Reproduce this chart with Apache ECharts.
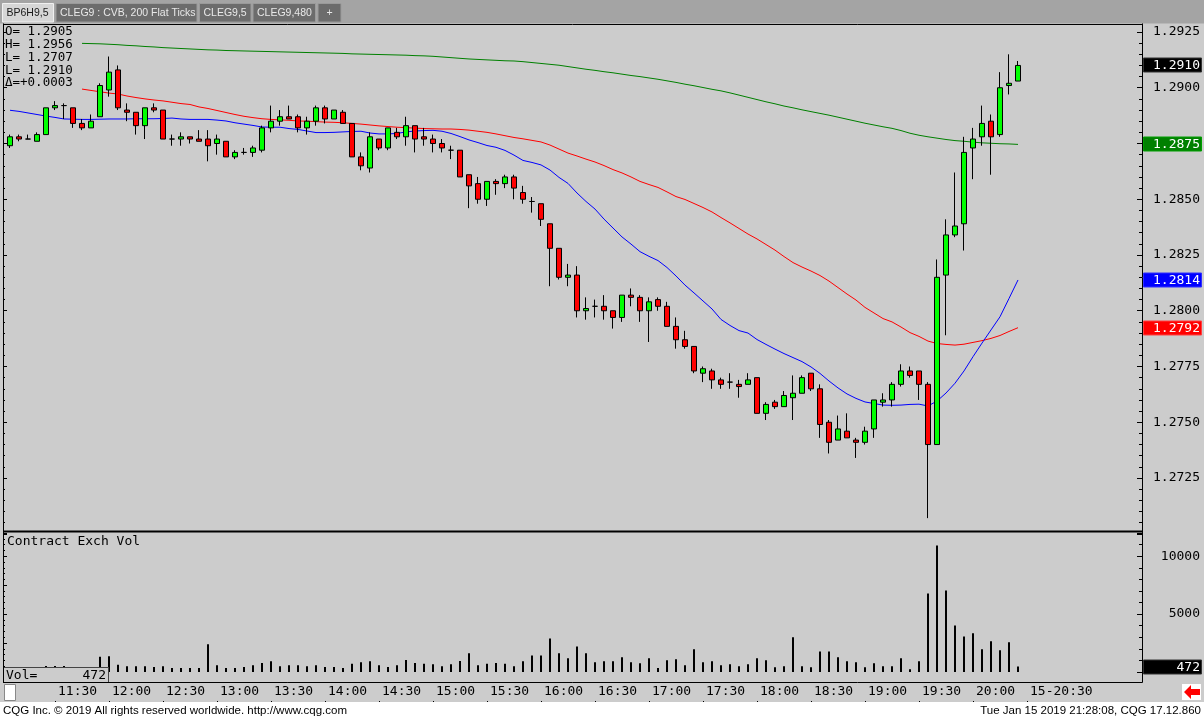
<!DOCTYPE html>
<html>
<head>
<meta charset="utf-8">
<title>BP6H9,5</title>
<script src="https://cdn.jsdelivr.net/npm/echarts@6.0.0/dist/echarts.min.js"></script>
<style>
  html, body { margin: 0; padding: 0; background: #ffffff; }
  #chart { width: 1204px; height: 719px; }
</style>
</head>
<body>
<div id="chart"></div>
<script type="text/javascript">
// 5 minute bars, 11:05 .. 20:25 (room on the axis up to 21:30)
var times = [];
for (var m = 11 * 60 + 5; m <= 21 * 60 + 30; m += 5) {
  times.push(('0' + Math.floor(m / 60)).slice(-2) + ':' + ('0' + (m % 60)).slice(-2));
}

var opens = [1.2874,1.2878,1.2877,1.2876,1.2879,1.2891,1.2892,1.2891,1.2884,1.2882,
  1.2887,1.2899,1.2908,1.2890,1.2889,1.2883,1.2891,1.2890,1.2877,1.2877,
  1.2878,1.2877,1.2877,1.2875,1.2876,1.2869,1.2871,1.2871,1.2872,1.2882,
  1.2885,1.2887,1.2887,1.2882,1.2885,1.2891,1.2886,1.2889,1.2884,1.2869,
  1.2864,1.2877,1.2873,1.2880,1.2878,1.2883,1.2878,1.2877,1.2875,1.2872,
  1.2872,1.2861,1.2857,1.2850,1.2858,1.2857,1.2860,1.2853,1.2849,1.2848,
  1.2839,1.2828,1.2815,1.2816,1.2800,1.2802,1.2802,1.2800,1.2797,1.2807,
  1.2806,1.2800,1.2805,1.2802,1.2793,1.2787,1.2784,1.2772,1.2773,1.2769,
  1.2768,1.2767,1.2767,1.2770,1.2754,1.2759,1.2757,1.2761,1.2763,1.2772,
  1.2765,1.2750,1.2742,1.2746,1.2742,1.2741,1.2747,1.2759,1.2760,1.2767,
  1.2773,1.2773,1.2767,1.2740,1.2816,1.2834,1.2839,1.2873,1.2878,1.2885,
  1.2879,1.2901,1.2903];

var highs = [1.2879,1.2879,1.2879,1.2880,1.2891,1.2894,1.2893,1.2891,1.2886,1.2888,
  1.2902,1.2914,1.2910,1.2893,1.2889,1.2891,1.2893,1.2890,1.2879,1.2880,
  1.2878,1.2881,1.2881,1.2879,1.2876,1.2872,1.2873,1.2874,1.2883,1.2892,
  1.2890,1.2892,1.2888,1.2887,1.2892,1.2892,1.2890,1.2890,1.2884,1.2871,
  1.2880,1.2877,1.2882,1.2882,1.2887,1.2883,1.2882,1.2879,1.2877,1.2874,
  1.2872,1.2861,1.2860,1.2858,1.2859,1.2861,1.2861,1.2856,1.2851,1.2848,
  1.2839,1.2828,1.2821,1.2820,1.2806,1.2805,1.2807,1.2800,1.2807,1.2810,
  1.2807,1.2806,1.2806,1.2804,1.2797,1.2791,1.2784,1.2775,1.2774,1.2770,
  1.2772,1.2769,1.2772,1.2770,1.2759,1.2760,1.2764,1.2771,1.2771,1.2772,
  1.2767,1.2751,1.2753,1.2754,1.2743,1.2748,1.2760,1.2763,1.2768,1.2776,
  1.2775,1.2773,1.2768,1.2823,1.2841,1.2862,1.2878,1.2882,1.2892,1.2888,
  1.2907,1.2915,1.2912];

var lows = [1.2873,1.2876,1.2877,1.2876,1.2879,1.2890,1.2886,1.2882,1.2881,1.2882,
  1.2887,1.2896,1.2890,1.2885,1.2879,1.2877,1.2889,1.2877,1.2874,1.2874,
  1.2875,1.2876,1.2867,1.2870,1.2869,1.2868,1.2870,1.2869,1.2871,1.2880,
  1.2883,1.2886,1.2880,1.2879,1.2883,1.2884,1.2886,1.2884,1.2869,1.2863,
  1.2862,1.2872,1.2872,1.2877,1.2874,1.2871,1.2874,1.2871,1.2871,1.2868,
  1.2860,1.2846,1.2848,1.2847,1.2852,1.2855,1.2850,1.2848,1.2844,1.2838,
  1.2811,1.2814,1.2811,1.2797,1.2796,1.2797,1.2796,1.2792,1.2795,1.2802,
  1.2795,1.2786,1.2800,1.2793,1.2783,1.2783,1.2772,1.2768,1.2765,1.2765,
  1.2765,1.2761,1.2767,1.2754,1.2751,1.2756,1.2757,1.2751,1.2763,1.2764,
  1.2743,1.2736,1.2742,1.2743,1.2734,1.2740,1.2743,1.2757,1.2757,1.2766,
  1.2770,1.2760,1.2707,1.2740,1.2789,1.2833,1.2827,1.2859,1.2874,1.2861,
  1.2878,1.2897,1.2903];

var closes = [1.2878,1.2877,1.2877,1.2879,1.2891,1.2892,1.2892,1.2884,1.2882,1.2885,
  1.2901,1.2907,1.2891,1.2889,1.2883,1.2891,1.2890,1.2877,1.2877,1.2878,
  1.2877,1.2876,1.2874,1.2877,1.2869,1.2871,1.2871,1.2873,1.2882,1.2885,
  1.2887,1.2886,1.2882,1.2885,1.2891,1.2886,1.2890,1.2884,1.2869,1.2865,
  1.2878,1.2873,1.2882,1.2878,1.2883,1.2877,1.2877,1.2875,1.2873,1.2872,
  1.2860,1.2856,1.2850,1.2858,1.2857,1.2860,1.2855,1.2850,1.2849,1.2841,
  1.2828,1.2815,1.2816,1.2800,1.2801,1.2802,1.2800,1.2797,1.2807,1.2806,
  1.2800,1.2804,1.2802,1.2793,1.2787,1.2784,1.2773,1.2774,1.2769,1.2767,
  1.2768,1.2766,1.2769,1.2754,1.2758,1.2757,1.2762,1.2763,1.2770,1.2765,
  1.2749,1.2741,1.2747,1.2743,1.2741,1.2746,1.2760,1.2760,1.2767,1.2773,
  1.2771,1.2767,1.2740,1.2815,1.2834,1.2838,1.2871,1.2877,1.2884,1.2878,
  1.2900,1.2902,1.2910];

var volumes = [300,300,300,300,520,520,520,300,300,300,
  1320,1350,630,490,490,490,430,490,345,345,
  345,345,2385,575,345,345,430,575,775,920,
  490,575,575,490,575,430,430,345,715,835,
  920,575,430,575,1035,775,715,660,490,660,
  950,1610,575,715,775,715,490,920,1435,1435,
  2900,1610,1180,2210,1610,835,920,920,1265,835,
  750,1180,345,1005,1090,575,1955,835,920,575,
  660,490,660,1180,1005,400,490,2990,490,400,
  1780,1780,1265,920,835,400,750,490,490,1180,
  230,920,6780,10920,7040,4020,3075,3335,1955,2645,
  1870,2560,472];

// moving averages as drawn (blue fast, red medium, green slow)
var maBlue = [1.28899,1.28894,1.28887,1.28880,1.28873,1.28867,1.28860,1.28859,1.28858,1.28858,
  1.28859,1.28860,1.28860,1.28860,1.28861,1.28861,1.28861,1.28862,1.28864,1.28860,
  1.28858,1.28858,1.28858,1.28855,1.28851,1.28843,1.28837,1.28831,1.28824,1.28823,
  1.28823,1.28817,1.28813,1.28806,1.28799,1.28799,1.28800,1.28802,1.28804,1.28805,
  1.28797,1.28793,1.28793,1.28795,1.28802,1.28806,1.28808,1.28809,1.28805,1.28795,
  1.28781,1.28766,1.28754,1.28741,1.28733,1.28719,1.28698,1.28674,1.28665,1.28654,
  1.28631,1.28598,1.28571,1.28528,1.28490,1.28456,1.28411,1.28371,1.28331,1.28299,
  1.28265,1.28244,1.28225,1.28194,1.28156,1.28115,1.28080,1.28044,1.28008,1.27961,
  1.27934,1.27911,1.27900,1.27871,1.27849,1.27828,1.27808,1.27790,1.27772,1.27748,
  1.27719,1.27685,1.27654,1.27627,1.27607,1.27591,1.27584,1.27577,1.27576,1.27577,
  1.27580,1.27581,1.27573,1.27595,1.27631,1.27675,1.27730,1.27794,1.27855,1.27914,
  1.27973,1.28055,1.28138];

var maRed = [null,null,null,null,null,null,null,null,
  1.28994,1.28988,1.28982,1.28976,1.28972,1.28963,1.28956,1.28950,1.28945,1.28941,
  1.28935,1.28929,1.28925,1.28914,1.28907,1.28898,1.28889,1.28880,1.28872,1.28866,
  1.28861,1.28858,1.28856,1.28854,1.28851,1.28850,1.28848,1.28846,1.28845,1.28843,
  1.28840,1.28837,1.28833,1.28829,1.28826,1.28823,1.28821,1.28819,1.28817,1.28816,
  1.28815,1.28815,1.28813,1.28810,1.28805,1.28800,1.28793,1.28785,1.28777,1.28771,
  1.28764,1.28757,1.28743,1.28725,1.28707,1.28694,1.28680,1.28667,1.28651,1.28633,
  1.28618,1.28600,1.28580,1.28566,1.28553,1.28533,1.28512,1.28499,1.28481,1.28463,
  1.28443,1.28418,1.28394,1.28369,1.28344,1.28322,1.28297,1.28272,1.28243,1.28216,
  1.28196,1.28178,1.28158,1.28133,1.28104,1.28075,1.28048,1.28015,1.27990,1.27965,
  1.27950,1.27927,1.27902,1.27885,1.27864,1.27853,1.27849,1.27846,1.27850,1.27858,
  1.27866,1.27876,1.27889,1.27907,1.27924];

var maGreen = [null,null,null,null,null,null,null,null,
  1.29199,1.29198,1.29197,1.29195,1.29193,1.29190,1.29188,1.29185,1.29183,1.29180,
  1.29178,1.29176,1.29174,1.29172,1.29170,1.29169,1.29167,1.29166,1.29165,1.29164,
  1.29163,1.29162,1.29161,1.29160,1.29159,1.29158,1.29157,1.29156,1.29155,1.29154,
  1.29152,1.29151,1.29150,1.29149,1.29148,1.29147,1.29146,1.29144,1.29143,1.29141,
  1.29138,1.29135,1.29132,1.29129,1.29127,1.29125,1.29123,1.29121,1.29120,1.29117,
  1.29113,1.29109,1.29105,1.29101,1.29095,1.29089,1.29083,1.29078,1.29072,1.29067,
  1.29061,1.29055,1.29050,1.29044,1.29038,1.29031,1.29024,1.29016,1.29009,1.29001,
  1.28993,1.28986,1.28977,1.28967,1.28957,1.28947,1.28937,1.28928,1.28918,1.28910,
  1.28901,1.28893,1.28885,1.28877,1.28868,1.28859,1.28850,1.28841,1.28833,1.28825,
  1.28818,1.28808,1.28796,1.28787,1.28780,1.28774,1.28768,1.28763,1.28760,1.28756,
  1.28753,1.28751,1.28749,1.28748,1.28746];

var headerLines = ['O= 1.2905', 'H= 1.2956', 'L= 1.2707', 'L= 1.2910', '\u0394=+0.0003'];
var tabs = ['BP6H9,5', 'CLEG9 : CVB, 200 Flat Ticks', 'CLEG9,5', 'CLEG9,480', '+'];
var firstLabel = 5, lastLabel = 113; // 11:30 .. 20:30

var mono = "'DejaVu Sans Mono', monospace";
var sans = "'Liberation Sans', Arial, sans-serif";

var candles = opens.map(function (o, i) { return [o, closes[i], lows[i], highs[i]]; });

function showTime(index, value) {
  return index >= firstLabel && index <= lastLabel && /:(00|30)$/.test(value);
}

var myChart = echarts.init(document.getElementById('chart'));

var option = {
  animation: false,
  backgroundColor: '#cccccc',
  grid: [
    { left: 5.5, width: 1134, top: 20.85, height: 512.9 },
    { left: 5.5, width: 1134, top: 533, height: 139 },
    { left: 5.5, width: 1134, top: 682, height: 19 }
  ],
  xAxis: [
    { type: 'category', gridIndex: 0, data: times, show: false },
    { type: 'category', gridIndex: 1, data: times, show: false },
    {
      type: 'category', gridIndex: 2, data: times, position: 'top',
      axisLine: { show: false },
      axisTick: { show: true, inside: true, length: 18, alignWithLabel: true,
        interval: showTime, lineStyle: { color: '#000', width: 1 } },
      axisLabel: { inside: true, interval: showTime, align: 'left', margin: 3,
        padding: [0, 0, 0, 3], color: '#000', fontFamily: mono, fontSize: 13,
        formatter: function (v, i) { return i === lastLabel ? '15-' + v : v; } },
      splitLine: { show: false }
    }
  ],
  yAxis: [
    {
      type: 'value', gridIndex: 0, position: 'right', offset: 2.5,
      min: 1.27, max: 1.293, interval: 0.0025,
      axisLine: { show: true, lineStyle: { color: '#000' } },
      axisTick: { show: true, inside: true, length: 5, lineStyle: { color: '#000' } },
      minorTick: { show: true, splitNumber: 5, length: 3, lineStyle: { color: '#000' } },
      splitLine: { show: false },
      axisLabel: { align: 'right', margin: 58, color: '#000', fontFamily: mono, fontSize: 13,
        formatter: function (v) { return (v < 1.2712 || v > 1.2926) ? '' : v.toFixed(4); } }
    },
    {
      type: 'value', gridIndex: 0, position: 'left', offset: 2.5,
      min: 1.27, max: 1.293, interval: 0.0025,
      axisLine: { show: true, lineStyle: { color: '#000' } },
      axisTick: { show: true, inside: true, length: 4, lineStyle: { color: '#000' } },
      minorTick: { show: true, splitNumber: 5, length: 2, lineStyle: { color: '#000' } },
      splitLine: { show: false },
      axisLabel: { show: false }
    },
    {
      type: 'value', gridIndex: 1, position: 'right', offset: 2.5,
      min: 0, max: 12000, interval: 5000,
      axisLine: { show: true, lineStyle: { color: '#000' } },
      axisTick: { show: true, inside: true, length: 5, lineStyle: { color: '#000' } },
      minorTick: { show: true, splitNumber: 5, length: 3, lineStyle: { color: '#000' } },
      splitLine: { show: false },
      axisLabel: { align: 'right', margin: 58, color: '#000', fontFamily: mono, fontSize: 13,
        formatter: function (v) { return (v === 5000 || v === 10000) ? String(v) : ''; } }
    },
    {
      type: 'value', gridIndex: 1, position: 'left', offset: 2.5,
      min: 0, max: 12000, interval: 2500,
      axisLine: { show: true, lineStyle: { color: '#000' } },
      axisTick: { show: true, inside: true, length: 4, lineStyle: { color: '#000' } },
      minorTick: { show: true, splitNumber: 5, length: 2, lineStyle: { color: '#000' } },
      splitLine: { show: false },
      axisLabel: { show: false }
    },
    { type: 'value', gridIndex: 2, show: false }
  ],
  series: [
    { name: 'MA slow', type: 'line', xAxisIndex: 0, yAxisIndex: 0, data: maGreen,
      showSymbol: false, z: 1, lineStyle: { color: '#008000', width: 1 } },
    { name: 'MA mid', type: 'line', xAxisIndex: 0, yAxisIndex: 0, data: maRed,
      showSymbol: false, z: 1, lineStyle: { color: '#ff0000', width: 1 } },
    { name: 'MA fast', type: 'line', xAxisIndex: 0, yAxisIndex: 0, data: maBlue,
      showSymbol: false, z: 1, lineStyle: { color: '#0000ff', width: 1 } },
    { name: 'BP6H9', type: 'candlestick', xAxisIndex: 0, yAxisIndex: 0, data: candles,
      barWidth: 5, z: 3,
      itemStyle: { color: '#00ff00', color0: '#ff0000', borderColor: '#000000',
        borderColor0: '#000000', borderColorDoji: '#000000', borderWidth: 1 } },
    { name: 'Vol', type: 'bar', xAxisIndex: 1, yAxisIndex: 2, data: volumes,
      barWidth: 2, itemStyle: { color: '#000000' } }
  ]
};

myChart.setOption(option);

// frame, tabs, header texts and footer
var g = [];
function rect(x, y, w, h, fill, stroke, z) {
  g.push({ type: 'rect', silent: true, z: z || 100, shape: { x: x, y: y, width: w, height: h },
    style: { fill: fill, stroke: stroke || null, lineWidth: 1 } });
}
function line(x1, y1, x2, y2, color, w) {
  g.push({ type: 'line', silent: true, z: 101, shape: { x1: x1, y1: y1, x2: x2, y2: y2 },
    style: { stroke: color, lineWidth: w || 1 } });
}
function text(x, y, s, font, fill, align, z) {
  g.push({ type: 'text', silent: true, z: z || 102, x: x, y: y,
    style: { text: s, font: font, fill: fill, align: align || 'left', verticalAlign: 'middle' } });
}

// tab strip
rect(0, 0, 1204, 23.5, '#a4a4a4');
var tabX = [2.5, 56, 199.5, 253, 318];
var tabW = [51, 141, 51.5, 62.5, 23];
tabs.forEach(function (t, i) {
  rect(tabX[i], 3.5, tabW[i], 18.5, i === 0 ? '#d6d6d6' : '#6c6c6c', i === 0 ? '#f0f0f0' : '#9a9a9a');
  text(tabX[i] + (i === 4 ? tabW[i] / 2 : 4), 13, t, '10.5px ' + sans, i === 0 ? '#1a1a1a' : '#e8e8e8',
    i === 4 ? 'center' : 'left');
});

// panel borders
line(3, 24.5, 1142, 24.5, '#000', 1);
line(3.5, 24, 3.5, 682, '#000', 1);
line(3, 531.5, 1142.5, 531.5, '#000', 2);
line(3, 682.5, 1142.5, 682.5, '#000', 1);
line(1142.5, 670, 1142.5, 682.5, '#000', 1);

// header
headerLines.forEach(function (s, i) { text(5, 32 + i * 12.8, s, '12.5px ' + mono, '#000'); });
text(7, 542, 'Contract Exch Vol', '13px ' + mono, '#000');

// Vol box, bottom-left square
rect(3.5, 667.5, 105, 15, '#cccccc', '#444');
text(6, 675.5, 'Vol=', '13px ' + mono, '#000');
text(106, 675.5, String(volumes[volumes.length - 1]), '13px ' + mono, '#000', 'right');
rect(4.5, 684.5, 11, 16, '#ffffff', '#888');

// footer
rect(0, 702, 1204, 17, '#ffffff');
text(3, 711, 'CQG Inc. \u00a9 2019 All rights reserved worldwide. http://www.cqg.com', '11.5px ' + sans, '#000');
text(1201, 711, 'Tue Jan 15 2019 21:28:08, CQG 17.12.860', '11.5px ' + sans, '#000', 'right');

// red scroll arrow
rect(1182, 684, 19, 16, '#ffffff');
g.push({ type: 'polygon', silent: true, z: 103,
  shape: { points: [[1184, 692], [1191, 685], [1191, 689], [1200, 689], [1200, 695], [1191, 695], [1191, 699]] },
  style: { fill: '#ff0000' } });

// last value markers on the right axes
function marker(value, axis, fill, stroke, label) {
  var y = Math.round(myChart.convertToPixel({ yAxisIndex: axis }, value));
  rect(1143.5, y - 7, 58, 14, fill, stroke, 110);
  text(1200, y + 0.5, label, '13px ' + mono, '#ffffff', 'right', 111);
}
var last = closes.length - 1;
marker(closes[last], 0, '#000000', '#333333', closes[last].toFixed(4));
marker(maGreen[last], 0, '#008000', '#00a000', maGreen[last].toFixed(4));
marker(maBlue[last], 0, '#0000ff', '#3030ff', maBlue[last].toFixed(4));
marker(maRed[last], 0, '#ff0000', '#ff4040', maRed[last].toFixed(4));
marker(volumes[last], 2, '#000000', '#333333', String(volumes[last]));

myChart.setOption({ graphic: g });
</script>
</body>
</html>
